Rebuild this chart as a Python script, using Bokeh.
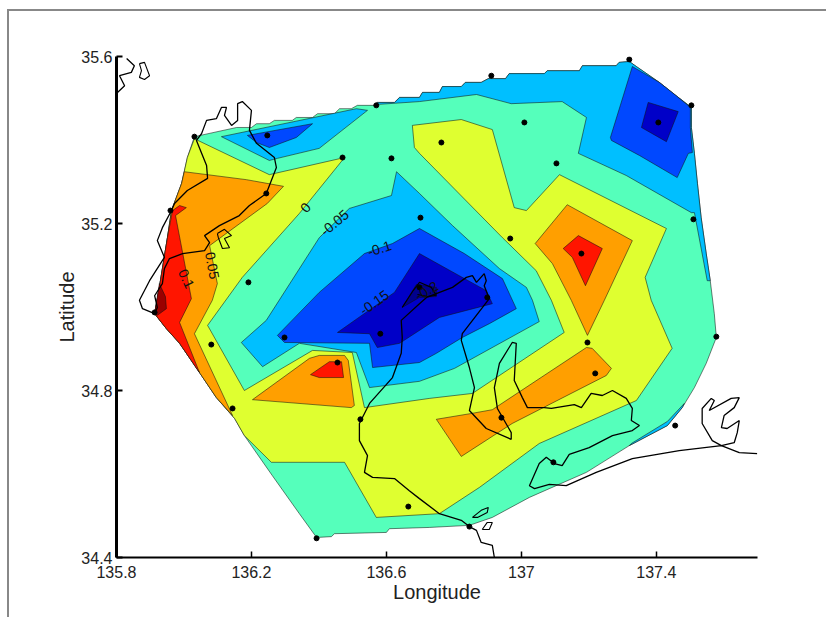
from bokeh.plotting import figure
from bokeh.embed import file_html
from bokeh.resources import INLINE
from bokeh.models import FixedTicker
from bokeh.core.properties import value

XTICKS = [135.8, 136.2, 136.6, 137.0, 137.4]
YTICKS = [34.4, 34.8, 35.2, 35.6]
XLABELS = {135.8: "135.8", 136.2: "136.2", 136.6: "136.6", 137.0: "137", 137.4: "137.4"}
YLABELS = {34.4: "34.4", 34.8: "34.8", 35.2: "35.2", 35.6: "35.6"}

HULL_N = [(136.031,35.408),(136.156,35.430),(136.200,35.430),(136.215,35.439),(136.253,35.439),(136.268,35.447),
          (136.321,35.447),(136.333,35.454),(136.381,35.454),(136.396,35.463),(136.446,35.463),(136.461,35.475),
          (136.496,35.475),(136.514,35.483),(136.564,35.483)]
HULL_TOP = [(136.573,35.490),(136.624,35.490),(136.639,35.502),(136.698,35.502),(136.707,35.514),(136.757,35.514),
            (136.766,35.528),(136.822,35.528),(136.834,35.538),(136.881,35.538),(136.902,35.547),(136.953,35.547),
            (136.964,35.559),(137.068,35.559),(137.077,35.566),(137.172,35.566),(137.181,35.578),(137.281,35.578),
            (137.290,35.586),(137.320,35.588),(137.341,35.576),
            (137.409,35.538),(137.459,35.506),(137.504,35.478),(137.504,35.430),(137.513,35.368),
            (137.522,35.296),(137.533,35.214),(137.548,35.128),(137.560,35.063)]
HULL_SE = [(137.572,34.984),(137.578,34.927),(137.548,34.865),(137.513,34.807),(137.477,34.759),
           (137.433,34.716),(137.320,34.668),(137.193,34.604),(137.024,34.544),(136.914,34.496),
           (136.846,34.477),(136.727,34.472),(136.609,34.469),(136.600,34.460),(136.446,34.457),
           (136.437,34.450),(136.393,34.448),(136.342,34.505),(136.262,34.596)]
HULL_SW = [(136.179,34.692),(136.150,34.733)]
HULL_W = [(136.096,34.783),(136.046,34.843),(135.987,34.913),(135.948,34.948),(135.913,34.984),
          (135.927,35.047),(135.951,35.166),(135.963,35.231),(135.993,35.296)]
HULL_NW = [(136.010,35.358)]

YELLOW = [(136.031,35.403),(136.253,35.317),(136.476,35.358),(136.342,35.224),(136.173,35.071),
          (136.070,34.956),(136.179,34.800),(136.381,34.896),(136.499,34.891),(136.535,34.759),
          (136.727,34.781),(136.855,34.793),(137.127,34.939),(137.089,35.016),(137.044,35.087),
          (136.944,35.166),(136.698,35.368),(136.683,35.382),(136.677,35.435),(136.822,35.449),
          (136.914,35.425),(136.979,35.238),(137.015,35.231),(137.113,35.317),(137.430,35.188),
          (137.367,35.071),(137.385,35.016),(137.447,34.901),(137.341,34.776),(137.053,34.673),
          (136.876,34.568),(136.757,34.505),(136.570,34.496),(136.476,34.628),(136.259,34.628)]
SKY_TOP_IN = [(137.551,35.063),(137.513,35.226),(137.504,35.226),(137.311,35.315),(137.169,35.368),
              (137.193,35.454),(137.121,35.492),(136.970,35.487),(136.867,35.509),(136.698,35.492),
              (136.570,35.485)]
SKY_SLIVER = [(137.320,34.668),(137.433,34.716),(137.477,34.759),(137.483,34.769),(137.433,34.726),(137.326,34.673)]
BLUE_NE = [(137.329,35.576),(137.409,35.538),(137.459,35.506),(137.501,35.478),(137.501,35.430),
           (137.507,35.370),(137.495,35.368),(137.462,35.310),(137.350,35.363),(137.267,35.399),(137.264,35.406)]
DARK_NE = [(137.376,35.490),(137.465,35.468),(137.430,35.396),(137.356,35.430)]
SKY_NW = [(136.111,35.408),(136.511,35.475),(136.544,35.471),(136.401,35.380),(136.277,35.356),(136.253,35.351)]
BLUE_NW = [(136.188,35.411),(136.381,35.439),(136.333,35.406),(136.253,35.382),(136.215,35.394)]
ORANGE_W = [(136.001,35.324),(136.185,35.305),(136.295,35.289),(136.247,35.248),(136.076,35.147),
            (136.099,35.056),(136.084,35.016),(136.031,34.936),(136.144,34.740)]
RED_W = [(135.966,35.231),(135.987,35.243),(136.007,35.238),(135.975,35.219),(136.022,35.020),
         (135.987,34.963),(136.046,34.843),(135.987,34.913),(135.948,34.948),(135.913,34.984),
         (135.927,35.047),(135.951,35.166)]
DARKRED_W = [(135.927,35.056),(135.945,35.025),(135.948,34.996),(135.921,34.980),(135.913,34.984)]
ORANGE_S = [(136.203,34.778),(136.372,34.877),(136.401,34.884),(136.476,34.884),(136.487,34.872),(136.505,34.764),(136.496,34.759)]
RED_S = [(136.375,34.838),(136.431,34.869),(136.467,34.869),(136.473,34.831),(136.401,34.831)]
ORANGE_E = [(137.136,35.245),(137.329,35.159),(137.246,35.016),(137.196,34.932),(137.148,35.016),(137.092,35.104),(137.041,35.152)]
RED_E = [(137.169,35.171),(137.240,35.140),(137.190,35.051),(137.151,35.119),(137.124,35.140)]
ORANGE_BAND = [(136.748,34.731),(136.852,34.745),(136.914,34.754),(137.193,34.903),(137.210,34.901),(137.267,34.853),(137.252,34.836),(136.973,34.721),(136.822,34.642)]
SKY_C = [(136.630,35.324),(136.698,35.272),(136.796,35.195),(136.935,35.092),(137.015,35.047),(137.033,35.016),
         (137.053,34.965),(136.802,34.853),(136.698,34.822),(136.550,34.807),(136.511,34.891),(136.342,34.913),
         (136.233,34.857),(136.170,34.915),(136.244,34.968),(136.401,35.166),(136.490,35.236),(136.615,35.267)]
BLUE_C = [(136.277,34.932),(136.401,35.035),(136.535,35.128),(136.618,35.152),(136.698,35.188),(136.831,35.128),
          (136.944,35.068),(136.985,34.996),(136.905,34.960),(136.825,34.927),(136.748,34.889),(136.698,34.867),
          (136.559,34.855),(136.550,34.913),(136.298,34.915)]
DARK_C = [(136.455,34.939),(136.624,35.035),(136.698,35.128),(136.896,35.039),(136.914,35.008),(136.757,34.975),
          (136.639,34.913),(136.573,34.903),(136.550,34.936)]
NAVY_C = [(136.647,34.999),(136.689,35.054),(136.748,35.047),(136.748,35.025),(136.698,35.023)]

COAST_W = [(135.963,35.231),(135.936,35.190),(135.921,35.159),(135.942,35.119),(135.898,35.063),(135.868,35.016),
           (135.877,34.996),(135.913,34.984),(135.921,34.999),(135.913,35.027),(135.936,35.056),(135.942,35.092),
           (135.957,35.116),(135.996,35.128),(136.061,35.135),(136.076,35.154),(136.061,35.171),(136.105,35.195),
           (136.164,35.219),(136.194,35.243),(136.244,35.272),(136.274,35.334),(136.268,35.358),(136.215,35.392),
           (136.194,35.423),(136.200,35.471),(136.173,35.492),(136.159,35.487),(136.159,35.447),(136.141,35.435),
           (136.120,35.459),(136.126,35.478),(136.111,35.478),(136.096,35.451),(136.067,35.447),(136.052,35.415),
           (136.037,35.399),(136.067,35.339),(136.070,35.308),(136.010,35.279),(135.972,35.248),(135.963,35.231)]
ISLE_LAKE = [(136.099,35.176),(136.120,35.186),(136.141,35.171),(136.120,35.164),(136.135,35.142),(136.114,35.140),(136.102,35.166),(136.099,35.176)]
COAST_S = [(136.920,34.400),(136.914,34.429),(136.881,34.436),(136.867,34.465),(136.846,34.474),(136.822,34.489),
           (136.757,34.505),(136.698,34.541),(136.668,34.560),(136.624,34.589),(136.559,34.592),(136.535,34.604),
           (136.544,34.644),(136.520,34.680),(136.520,34.721),(136.550,34.769),(136.618,34.831),(136.644,34.889),
           (136.647,34.927),(136.644,34.968),(136.698,35.008),(136.719,35.023),(136.796,35.047),(136.837,35.071),
           (136.855,35.075),(136.867,35.059),(136.890,35.080),(136.896,35.063),(136.890,35.051),(136.905,35.020),
           (136.825,34.936),(136.822,34.920),(136.846,34.855),(136.861,34.807),(136.846,34.752),(136.896,34.709),
           (136.970,34.683),(136.970,34.699),(136.929,34.757),(136.920,34.807),(136.935,34.865),(136.973,34.915),
           (136.985,34.913),(136.979,34.824),(137.003,34.783),(137.018,34.759),(137.068,34.759),(137.089,34.757),
           (137.157,34.766),(137.178,34.759),(137.207,34.793),(137.240,34.788),(137.270,34.800),(137.311,34.781),
           (137.329,34.757),(137.326,34.728),(137.350,34.716),(137.329,34.704),(137.270,34.692),(137.201,34.663),
           (137.142,34.647),(137.121,34.620),(137.098,34.625),(137.074,34.640),(137.053,34.625),(137.024,34.572),
           (137.039,34.565),(137.083,34.575),(137.133,34.572),(137.222,34.604),(137.329,34.637),(137.468,34.656),
           (137.593,34.668),(137.646,34.651),(137.699,34.649)]
COAST_SMALL = [(136.647,34.999),(136.680,35.040),(136.698,35.059),(136.733,35.047),(136.748,35.028),(136.722,35.025),(136.692,35.030)]
COAST_E = [(137.593,34.668),(137.566,34.680),(137.536,34.721),(137.536,34.757),(137.563,34.781),(137.572,34.776),
           (137.557,34.752),(137.622,34.781),(137.646,34.783),(137.631,34.759),(137.601,34.740),(137.593,34.711),
           (137.610,34.709),(137.646,34.728),(137.640,34.699),(137.631,34.675),(137.593,34.668)]
ISLE_F = [(136.855,34.496),(136.881,34.513),(136.902,34.520),(136.899,34.508),(136.870,34.496),(136.855,34.496)]
ISLE_G = [(136.884,34.467),(136.899,34.484),(136.914,34.484),(136.905,34.467),(136.884,34.467)]
COAST_NW = [(135.830,35.595),(135.853,35.578),(135.844,35.562),(135.809,35.554),(135.824,35.530),(135.803,35.514)]
ISLE_NW = [(135.868,35.583),(135.883,35.586),(135.898,35.554),(135.883,35.545),(135.868,35.550),(135.874,35.566),(135.868,35.583)]

STATION_LON = [136.031,136.247,136.570,136.470,136.615,136.701,136.244,135.960,136.191,136.911,137.320,137.504,
               137.009,136.763,137.104,137.406,137.510,136.967,137.178,136.899,135.913,136.081,136.298,136.582,
               136.455,136.144,136.523,136.665,136.393,137.196,137.219,136.941,137.095,136.846,137.456,137.578,136.698]
STATION_LAT = [35.408,35.411,35.483,35.358,35.356,35.214,35.272,35.231,35.059,35.554,35.593,35.483,
               35.442,35.394,35.344,35.442,35.210,35.164,35.128,35.023,34.987,34.910,34.927,34.936,
               34.867,34.757,34.731,34.522,34.446,34.915,34.841,34.735,34.628,34.474,34.716,34.929,35.047]

LEVEL_TEXT = ["0", "-0.05", "-0.1", "-0.15", "-0.2", "0.05", "0.1"]
LEVEL_LON = [136.360,136.446,136.579,136.564,136.719,136.084,136.007]
LEVEL_LAT = [35.238,35.202,35.140,35.011,35.039,35.099,35.068]
LEVEL_ANGLE = [50,40,18,35,30,-80,-65]

AQUA = "#55FFBB"; YEL = "#DFFF30"; SKY = "#00BFFF"; BLUE = "#0048FF"
DARK = "#0000C8"; NAVY = "#00008C"; ORANGE = "#FF9F00"; RED = "#FF1500"; DARKRED = "#9A0000"
FONT = "Liberation Sans"

p = figure(width=819, height=608, x_range=(135.8, 137.7), y_range=(34.4, 35.6),
           output_backend="svg", toolbar_location=None,
           min_border_left=107, min_border_right=71, min_border_top=45, min_border_bottom=62)
p.styles = {"margin-left": "7px", "margin-top": "9px",
            "border-top": "2px solid #888888", "border-left": "2px solid #888888"}
p.outline_line_color = None
p.grid.visible = False
p.background_fill_color = "white"
p.border_fill_color = "white"

def fill(points, color):
    p.patch([q[0] for q in points], [q[1] for q in points], fill_color=color,
            line_color="#111111", line_width=0.6, line_alpha=0.9)

def coast(points, width=1.3):
    p.line([q[0] for q in points], [q[1] for q in points], line_color="black", line_width=width)

fill(HULL_N + HULL_TOP + HULL_SE + HULL_SW + HULL_W + HULL_NW, AQUA)
fill(YELLOW + HULL_SW + HULL_W + HULL_NW, YEL)
fill(HULL_TOP + SKY_TOP_IN, SKY)
fill(SKY_SLIVER, SKY)
fill(BLUE_NE, BLUE)
fill(DARK_NE, DARK)
fill(SKY_NW, SKY)
fill(BLUE_NW, BLUE)
fill(ORANGE_W + HULL_W, ORANGE)
fill(RED_W, RED)
fill(DARKRED_W, DARKRED)
fill(ORANGE_S, ORANGE)
fill(RED_S, RED)
fill(ORANGE_E, ORANGE)
fill(RED_E, RED)
fill(ORANGE_BAND, ORANGE)
fill(SKY_C, SKY)
fill(BLUE_C, BLUE)
fill(DARK_C, DARK)
fill(NAVY_C, NAVY)

for c in [COAST_W, COAST_S, COAST_E, COAST_NW]:
    coast(c)
for c in [ISLE_LAKE, COAST_SMALL, ISLE_F, ISLE_G, ISLE_NW]:
    coast(c, 1.1)

p.scatter(STATION_LON, STATION_LAT, size=5, color="black")

p.text(LEVEL_LON, LEVEL_LAT, text=LEVEL_TEXT, angle=LEVEL_ANGLE, angle_units="deg",
       text_font=value(FONT), text_font_size="14px", text_color="#111111",
       text_align="center", text_baseline="middle")

p.xaxis.ticker = FixedTicker(ticks=XTICKS)
p.yaxis.ticker = FixedTicker(ticks=YTICKS)
p.xaxis.major_label_overrides = XLABELS
p.yaxis.major_label_overrides = YLABELS
p.xaxis.axis_label = "Longitude"
p.yaxis.axis_label = "Latitude"
for ax in [p.xaxis[0], p.yaxis[0]]:
    ax.major_tick_in = 6
    ax.major_tick_out = 0
    ax.minor_tick_in = 0
    ax.minor_tick_out = 0
    ax.axis_line_color = "black"
    ax.major_tick_line_color = "black"
    ax.major_label_text_font = FONT
    ax.major_label_text_font_size = "16px"
    ax.major_label_text_color = "#222222"
    ax.axis_label_text_font = FONT
    ax.axis_label_text_font_size = "20px"
    ax.axis_label_text_font_style = "normal"
    ax.axis_label_text_color = "#222222"
p.xaxis.axis_line_width = 2
p.yaxis.axis_line_width = 3
p.xaxis.major_tick_line_width = 1.5
p.yaxis.major_tick_line_width = 2
p.xaxis.major_label_standoff = 8
p.yaxis.major_label_standoff = 4
p.xaxis.axis_label_standoff = 0
p.yaxis.axis_label_standoff = 0
p.yaxis.major_label_orientation = "horizontal"

open("out.html", "w").write(file_html(p, INLINE))
